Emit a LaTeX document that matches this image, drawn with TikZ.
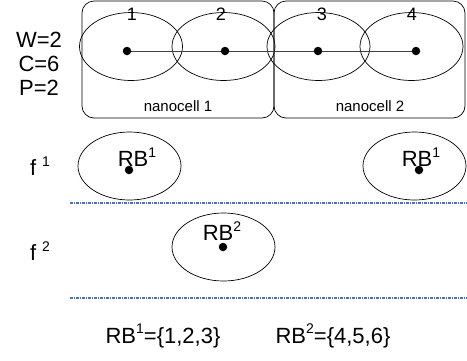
\documentclass[tikz,border=0pt]{standalone}
\usepackage{fontspec}
\setmainfont{Liberation Sans}
\usetikzlibrary{shapes.geometric}
\definecolor{sepblue}{RGB}{68,114,196}
\newcommand{\supr}[1]{\raisebox{9.5pt}{\fontsize{14}{14}\selectfont #1}}
\begin{document}
\begin{tikzpicture}[x=1pt,y=-1pt,
  cellbox/.style={draw,rounded corners=12pt,line width=0.7pt},
  rbell/.style={draw,ellipse,minimum width=103pt,minimum height=68pt,inner sep=0pt,line width=0.7pt},
  dotnode/.style={circle,fill=black,minimum size=8.5pt,inner sep=0pt},
  sepline/.style={draw=sepblue,line width=1.1pt,dash pattern=on 3pt off 1pt on 1pt off 1pt},
  bigtxt/.style={font=\fontsize{22}{25}\selectfont,inner sep=0pt},
  midtxt/.style={font=\fontsize{18}{20}\selectfont,inner sep=0pt},
  smalltxt/.style={font=\fontsize{15}{18}\selectfont,inner sep=0pt}]
\useasboundingbox (0,0) rectangle (467,360);
% nanocell boxes
\draw[cellbox] (82,1) rectangle (274,118);
\draw[cellbox] (274,1) rectangle (465,118);
\node[smalltxt] (nc1) at (178,106) {nanocell 1};
\node[smalltxt] (nc2) at (370,106) {nanocell 2};
% top ellipses
\node[rbell] (e1) at (131,46.5) {};
\node[rbell] (e2) at (223.5,46.5) {};
\node[rbell] (e3) at (318.5,46.5) {};
\node[rbell] (e4) at (411.5,46.5) {};
\node[midtxt] (n1) at (132,14) {1};
\node[midtxt] (n2) at (221,14) {2};
\node[midtxt] (n3) at (322,14) {3};
\node[midtxt] (n4) at (412,14) {4};
\node[dotnode] (d1) at (127,51) {};
\node[dotnode] (d2) at (225,51) {};
\node[dotnode] (d3) at (318,51) {};
\node[dotnode] (d4) at (416,51) {};
\draw[line width=0.7pt,black!75] (d1) -- (d2) -- (d3) -- (d4);
% parameters
\node[bigtxt] (w) at (39,40) {W=2};
\node[bigtxt] (c) at (39,64) {C=6};
\node[bigtxt] (p) at (39,88) {P=2};
% f1 row
\node[bigtxt] (f1) at (40,166) {f\hspace{6pt}\supr{1}};
\node[rbell] (r1a) at (129.5,166) {};
\node[dotnode] (r1ad) at (129,170) {};
\node[bigtxt] (r1at) at (137,157) {RB\supr{1}};
\node[rbell] (r1b) at (414.5,166) {};
\node[dotnode] (r1bd) at (419,170) {};
\node[bigtxt] (r1bt) at (421,157) {RB\supr{1}};
\coordinate (s1a) at (70,203);
\coordinate (s1b) at (467,203);
\draw[sepline] (s1a) -- (s1b);
% f2 row
\node[bigtxt] (f2) at (40,251) {f\hspace{6pt}\supr{2}};
\node[rbell] (r2) at (223.5,247) {};
\node[dotnode] (r2d) at (223,247) {};
\node[bigtxt] (r2t) at (222,231) {RB\supr{2}};
\coordinate (s2a) at (70,298);
\coordinate (s2b) at (467,298);
\draw[sepline] (s2a) -- (s2b);
% sets
\node[bigtxt] (set1) at (163,336) {RB\supr{1}=\{1,2,3\}};
\node[bigtxt] (set2) at (333,336) {RB\supr{2}=\{4,5,6\}};
\end{tikzpicture}
\end{document}
